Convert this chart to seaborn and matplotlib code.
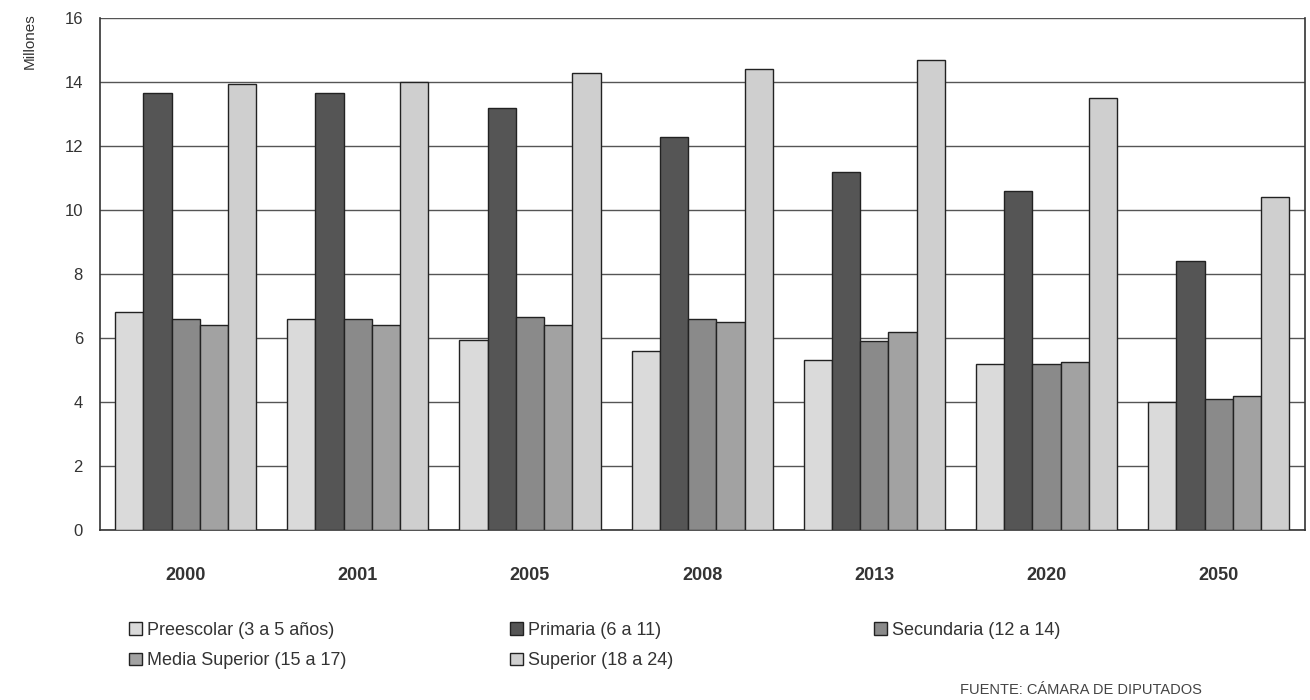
import seaborn as sns
import matplotlib.pyplot as plt
import pandas as pd

sns.set_style("white")
plt.rcParams['font.family'] = ['Liberation Sans', 'DejaVu Sans']

anios = ["2000", "2001", "2005", "2008", "2013", "2020", "2050"]
niveles = ["Preescolar (3 a 5 años)", "Primaria (6 a 11)", "Secundaria (12 a 14)",
           "Media Superior (15 a 17)", "Superior (18 a 24)"]

preescolar = [6.8, 6.6, 5.95, 5.6, 5.3, 5.2, 4.0]
primaria = [13.65, 13.65, 13.2, 12.3, 11.2, 10.6, 8.4]
secundaria = [6.6, 6.6, 6.65, 6.6, 5.9, 5.2, 4.1]
media_superior = [6.4, 6.4, 6.4, 6.5, 6.2, 5.25, 4.2]
superior = [13.95, 14.0, 14.3, 14.4, 14.7, 13.5, 10.4]

colores = ["#dadada", "#555555", "#8a8a8a", "#a2a2a2", "#cfcfcf"]

series = [preescolar, primaria, secundaria, media_superior, superior]
filas = []
for nivel, valores in zip(niveles, series):
    for anio, v in zip(anios, valores):
        filas.append({"Año": anio, "Nivel": nivel, "Millones": v})
df = pd.DataFrame(filas)

fig = plt.figure(figsize=(13.1, 7), dpi=100)
ax = fig.add_axes([0.076, 0.243, 0.92, 0.731])

sns.barplot(data=df, x="Año", y="Millones", hue="Nivel", order=anios,
            hue_order=niveles, palette=colores, width=0.82,
            edgecolor="#222222", linewidth=1.0, ax=ax, zorder=3)

ax.set_ylim(0, 16)
ax.set_yticks(range(0, 17, 2))
ax.yaxis.grid(True, color="#555555", linewidth=1.0, zorder=0)
ax.set_axisbelow(True)
ax.set_xlabel("")
ax.set_ylabel("Millones", fontsize=11, color="#333333")
ax.yaxis.set_label_coords(-0.052, 0.955)
ax.tick_params(axis="y", labelsize=12, colors="#333333", length=4, pad=8)
ax.tick_params(axis="x", labelsize=13, colors="#333333", pad=27, length=0)
for lbl in ax.get_xticklabels():
    lbl.set_fontweight("bold")
for s in ["left", "bottom", "right"]:
    ax.spines[s].set_color("#333333")
    ax.spines[s].set_linewidth(1.2)
ax.spines["top"].set_visible(False)

# leyenda en tres columnas colocadas por separado
handles, labels = ax.get_legend_handles_labels()
ax.legend_.remove()
columnas = [([0, 3], 0.086), ([1, 4], 0.377), ([2], 0.655)]
for idx, x0 in columnas:
    leg = fig.legend([handles[i] for i in idx], [labels[i] for i in idx],
                     loc="upper left", bbox_to_anchor=(x0, 0.135),
                     frameon=False, fontsize=13, handlelength=0.7,
                     handleheight=0.7, handletextpad=0.3, labelspacing=0.75,
                     labelcolor="#333333")

fig.text(0.733, 0.004, "FUENTE: CÁMARA DE DIPUTADOS", ha="left", va="bottom",
         fontsize=10.5, color="#444444")

fig.savefig("out.png", dpi=100)
